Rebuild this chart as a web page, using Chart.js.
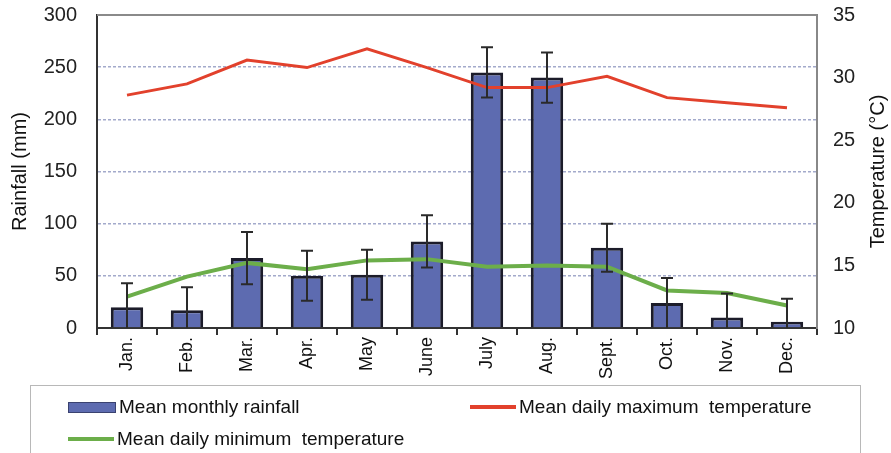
<!DOCTYPE html>
<html>
<head>
<meta charset="utf-8">
<script src="https://cdn.jsdelivr.net/npm/chart.js@4.4.0/dist/chart.umd.min.js"></script>
<style>
  body { margin: 0; background: #fff; }
  #wrap { position: relative; width: 891px; height: 453px; }
  #legend {
    position: absolute; left: 30px; top: 385px; width: 831px; height: 75px;
    border: 1px solid #b8b8b8; box-sizing: border-box;
    font-family: "Liberation Sans", Arial, sans-serif;
    font-size: 19px; color: #111;
  }
  .item { position: absolute; display: flex; align-items: center; }
  .sw { width: 46px; margin-right: 3px; }
</style>
</head>
<body>
<div id="wrap">
  <canvas id="chart" width="891" height="453"></canvas>
  <div id="legend"></div>
</div>
<script>
const months = ['Jan.', 'Feb.', 'Mar.', 'Apr.', 'May', 'June', 'July', 'Aug.', 'Sept.', 'Oct.', 'Nov.', 'Dec.'];
const rainfall = [20, 17, 67, 50, 51, 83, 245, 240, 77, 24, 10, 6];
const rainfallErr = [23, 22, 25, 24, 24, 25, 24, 24, 23, 24, 23, 22];
const maxTemp = [28.6, 29.5, 31.4, 30.8, 32.3, 30.8, 29.2, 29.2, 30.1, 28.4, 28.0, 27.6];
const minTemp = [12.5, 14.1, 15.2, 14.7, 15.4, 15.5, 14.9, 15.0, 14.9, 13.0, 12.8, 11.8];
const seriesNames = ['Mean monthly rainfall', 'Mean daily maximum  temperature', 'Mean daily minimum  temperature'];

const tickFont = { family: 'Liberation Sans, Arial, sans-serif', size: 20 };

// error bars on the rainfall bars
const errorBars = {
    id: 'errorBars',
    afterDatasetsDraw(chart) {
        const meta = chart.getDatasetMeta(0);
        const y = chart.scales.y;
        const ctx = chart.ctx;
        ctx.save();
        ctx.strokeStyle = '#2a2a2a';
        ctx.lineWidth = 2;
        meta.data.forEach((bar, i) => {
            const v = rainfall[i], e = rainfallErr[i];
            const lo = Math.max(0, v - e);
            const yTop = y.getPixelForValue(v + e);
            const yBot = y.getPixelForValue(lo);
            ctx.beginPath();
            ctx.moveTo(bar.x, yTop); ctx.lineTo(bar.x, yBot);
            ctx.moveTo(bar.x - 6, yTop); ctx.lineTo(bar.x + 6, yTop);
            if (v - e > 0) { ctx.moveTo(bar.x - 6, yBot); ctx.lineTo(bar.x + 6, yBot); }
            ctx.stroke();
        });
        ctx.restore();
    }
};

// rotated axis titles (both read bottom to top) and a solid top frame line
const axisTitles = {
    id: 'axisTitles',
    afterDraw(chart) {
        const ctx = chart.ctx;
        const a = chart.chartArea;
        const mid = (a.top + a.bottom) / 2;
        ctx.save();
        ctx.strokeStyle = '#8a8a8a';
        ctx.lineWidth = 2;
        ctx.beginPath();
        ctx.moveTo(a.left, a.top); ctx.lineTo(a.right, a.top);
        ctx.stroke();
        ctx.fillStyle = '#111';
        ctx.font = '20px "Liberation Sans", Arial, sans-serif';
        ctx.textAlign = 'center';
        ctx.textBaseline = 'middle';
        [[20, 'Rainfall (mm)'], [878, 'Temperature (°C)']].forEach(([x, t]) => {
            ctx.save();
            ctx.translate(x, mid);
            ctx.rotate(-Math.PI / 2);
            ctx.fillText(t, 0, 0);
            ctx.restore();
        });
        ctx.restore();
    }
};

const noPad = s => { s.paddingTop = 0; s.paddingBottom = 0; s.paddingLeft = 0; s.paddingRight = 0; };

const chart = new Chart(document.getElementById('chart'), {
    type: 'bar',
    data: {
        labels: months,
        datasets: [
            { type: 'bar', label: seriesNames[0], data: rainfall, yAxisID: 'y', order: 2,
              backgroundColor: '#5d6bb0', borderColor: '#1c1c2a', borderWidth: 3,
              barPercentage: 0.54, categoryPercentage: 1 },
            { type: 'line', label: seriesNames[1], data: maxTemp, yAxisID: 'y1', order: 1,
              borderColor: '#e2412c', borderWidth: 3, pointRadius: 0, tension: 0, fill: false },
            { type: 'line', label: seriesNames[2], data: minTemp, yAxisID: 'y1', order: 1,
              borderColor: '#6cae4a', borderWidth: 4, pointRadius: 0, tension: 0, fill: false }
        ]
    },
    options: {
        responsive: false,
        animation: false,
        layout: { padding: { top: 15, left: 0, right: 0, bottom: 75 } },
        plugins: { legend: { display: false }, tooltip: { enabled: false } },
        scales: {
            x: {
                offset: true,
                grid: { offset: true, drawOnChartArea: false, tickLength: 7, color: '#333', lineWidth: 2 },
                border: { color: '#333', width: 2 },
                ticks: { minRotation: 90, maxRotation: 90, color: '#111', padding: 2,
                         font: { family: 'Liberation Sans, Arial, sans-serif', size: 18 } },
                afterFit: s => { s.height = 50; noPad(s); }
            },
            y: {
                position: 'left', min: 0, max: 300,
                ticks: { stepSize: 50, color: '#222', padding: 20, font: tickFont },
                grid: { drawTicks: false, color: '#a3aacb', lineWidth: 1.5 },
                border: { color: '#333', width: 2, dash: [3, 2] },
                afterFit: s => { s.width = 97; noPad(s); }
            },
            y1: {
                position: 'right', min: 10, max: 35,
                ticks: { stepSize: 5, color: '#222', padding: 16, font: tickFont },
                grid: { drawOnChartArea: false, drawTicks: false },
                border: { color: '#888', width: 2 },
                afterFit: s => { s.width = 74; noPad(s); }
            }
        }
    },
    plugins: [errorBars, axisTitles]
});

// legend built from the datasets
const legend = document.getElementById('legend');
const spots = [[37, 10], [439, 10], [37, 42]];
chart.data.datasets.forEach((ds, i) => {
    const el = document.createElement('div');
    el.className = 'item';
    el.style.left = spots[i][0] + 'px';
    el.style.top = spots[i][1] + 'px';
    const sw = document.createElement('span');
    sw.className = 'sw';
    if (ds.type === 'bar') {
        sw.style.height = '9px';
        sw.style.background = ds.backgroundColor;
        sw.style.border = '1px solid #3a4270';
    } else {
        sw.style.height = '4px';
        sw.style.background = ds.borderColor;
    }
    const tx = document.createElement('span');
    tx.textContent = ds.label;
    tx.style.whiteSpace = 'pre';
    el.appendChild(sw);
    el.appendChild(tx);
    legend.appendChild(el);
});
</script>
</body>
</html>
